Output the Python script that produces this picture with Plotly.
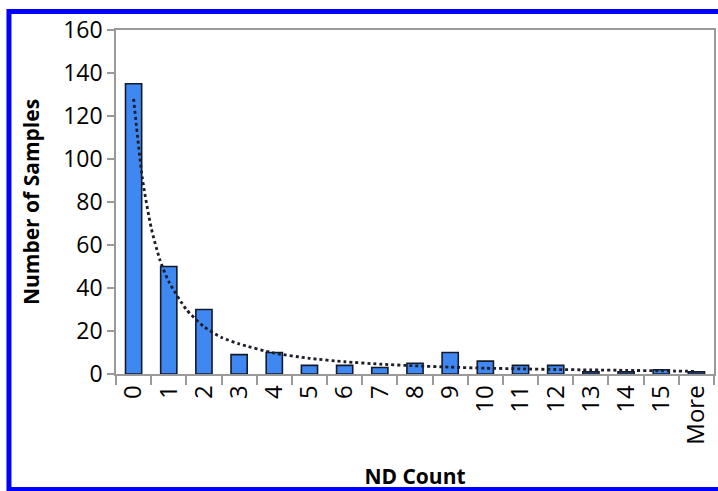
import plotly.graph_objects as go

# ---- data ----
categories = ["0", "1", "2", "3", "4", "5", "6", "7", "8", "9",
              "10", "11", "12", "13", "14", "15", "More"]
samples = [135, 50, 30, 9, 10, 4, 4, 3, 5, 10, 6, 4, 4, 1, 1, 2, 1]

# dotted trend line at category positions (0 = first bar)
trend_pos = [0, 0.25, 0.5, 0.75, 1, 1.5, 2, 2.5, 3, 4, 5, 6, 7, 8, 9, 10, 11, 12, 13, 14, 15, 16]
trend_val = [128, 91, 68, 53, 43, 30, 22, 17, 14, 9.7, 7.3, 5.7, 4.6, 3.8, 3.2, 2.7, 2.4, 2.1, 1.9, 1.7, 1.5, 1.2]

y_ticks = [0, 20, 40, 60, 80, 100, 120, 140, 160]

FONT = "Open Sans"
AXIS_GREY = "#9a9a9a"

fig = go.Figure()

fig.add_trace(go.Bar(
    x=categories, y=samples,
    marker=dict(color="#3f88f2", line=dict(color="#141a2a", width=1.6)),
    width=0.46,
    showlegend=False,
    xaxis="x", yaxis="y",
))

fig.add_trace(go.Scatter(
    x=trend_pos, y=trend_val,
    mode="lines",
    line=dict(color="#1e1e28", width=2.8, dash="dot", shape="spline", smoothing=0.6),
    showlegend=False,
    xaxis="x2", yaxis="y",
))

fig.update_layout(
    width=718, height=491,
    margin=dict(l=116, r=2, t=30, b=117),
    paper_bgcolor="white", plot_bgcolor="white",
    font=dict(family=FONT, color="#000000"),
    xaxis=dict(
        type="category",
        range=[-0.5, 16.5],
        tickson="boundaries",
        ticks="outside", ticklen=9, tickwidth=1.5, tickcolor=AXIS_GREY,
        tickangle=-90,
        tickfont=dict(family=FONT, size=24, color="#000000"),
        showline=True, linecolor=AXIS_GREY, linewidth=1.5, mirror=True,
        showgrid=False, zeroline=False,
        title=dict(text="<b>ND Count</b>", font=dict(family=FONT, size=21), standoff=26),
    ),
    xaxis2=dict(
        overlaying="x", range=[-0.5, 16.5], visible=False,
    ),
    yaxis=dict(
        range=[0, 160],
        tickvals=y_ticks,
        ticks="outside", ticklen=7, tickwidth=1.5, tickcolor=AXIS_GREY,
        tickfont=dict(family=FONT, size=23, color="#000000"),
        showline=True, linecolor=AXIS_GREY, linewidth=1.5, mirror=True,
        showgrid=False, zeroline=False,
        title=dict(text="<b>Number of Samples</b>", font=dict(family=FONT, size=21), standoff=18),
    ),
    shapes=[
        dict(type="rect", xref="paper", yref="paper",
             x0=-0.179, x1=1.02, y0=-0.336, y1=1.054,
             line=dict(color="#0000ff", width=5), fillcolor="rgba(0,0,0,0)",
             layer="above"),
    ],
)

fig.write_html(
    "out.html",
    config={"displayModeBar": False},
    post_script="document.body.style.margin='0';document.body.style.overflow='hidden';",
)
